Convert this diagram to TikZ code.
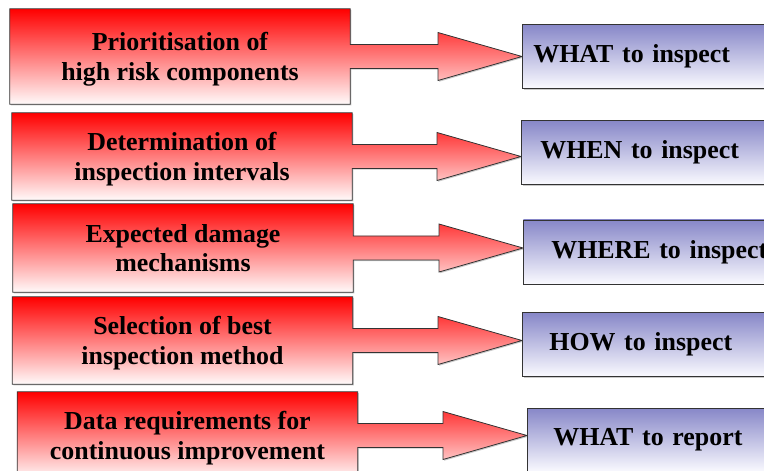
\documentclass[tikz,border=0pt]{standalone}
\usepackage{fontspec}
\setmainfont{Liberation Serif}
\usetikzlibrary{calc}
\usetikzlibrary{backgrounds}
\usetikzlibrary{shadows}

\definecolor{redtop}{RGB}{255,0,0}
\definecolor{redbot}{RGB}{255,250,250}
\definecolor{bluetop}{RGB}{135,135,200}
\definecolor{bluebot}{RGB}{250,250,255}

\tikzset{
  task/.style={inner sep=0pt, minimum width=340bp, minimum height=87bp, align=center,
    text depth=0pt, font=\bfseries\fontsize{26}{30}\selectfont},
  goal/.style={draw=black!80, line width=0.8bp, top color=bluetop, bottom color=bluebot,
    anchor=west, minimum height=64bp, text width=250bp, inner xsep=#1, align=left,
    font=\bfseries\fontsize{26}{28}\selectfont,
    drop shadow={shadow xshift=1.2bp, shadow yshift=-1.2bp, fill=black!35, opacity=0.6}},
  pointer/.style={draw=black!80, line width=0.8bp, top color=redtop, bottom color=redbot,
    drop shadow={shadow xshift=1.2bp, shadow yshift=-1.2bp, fill=black!35, opacity=0.6}}
}

\begin{document}
\begin{tikzpicture}[x=1bp, y=-1bp]
            \useasboundingbox (0,0) rectangle (764,471);

            \node[task, minimum height=95bp] (r1) at (180, 56.5) {Prioritisation of\\high risk components};
            \node[task] (r2) at (182, 156.5) {Determination of\\inspection intervals};
            \node[task, minimum height=88bp] (r3) at (183, 248) {Expected damage\\mechanisms};
            \node[task] (r4) at (182.5, 340.5) {Selection of best\\inspection method};
            \node[task] (r5) at (187.5, 435.5) {Data requirements for\\continuous improvement};

            \node[goal=11bp] (b1) at (522, 56.5) {WHAT to inspect};
            \node[goal=19bp] (b2) at (521, 152.5) {WHEN to inspect};
            \node[goal=28bp] (b3) at (523, 252) {WHERE to inspect};
            \node[goal=27bp] (b4) at (522, 344.5) {HOW to inspect};
            \node[goal=26bp] (b5) at (527, 440) {WHAT to report};

            \begin{scope}[on background layer]
            \foreach \i in {1,...,5} {
                \coordinate (t\i) at (b\i.west |- r\i.east);
                \draw[pointer] (r\i.north west) -- (r\i.north east) -- ([yshift=12bp]r\i.east)
                    -- ($(t\i)+(-84bp,12bp)$) -- ($(t\i)+(-84bp,24bp)$) -- (t\i)
                    -- ($(t\i)+(-84bp,-24bp)$) -- ($(t\i)+(-84bp,-12bp)$)
                    -- ([yshift=-12bp]r\i.east) -- (r\i.south east) -- (r\i.south west) -- cycle;
            }
            \end{scope}
        \end{tikzpicture}
\end{document}
